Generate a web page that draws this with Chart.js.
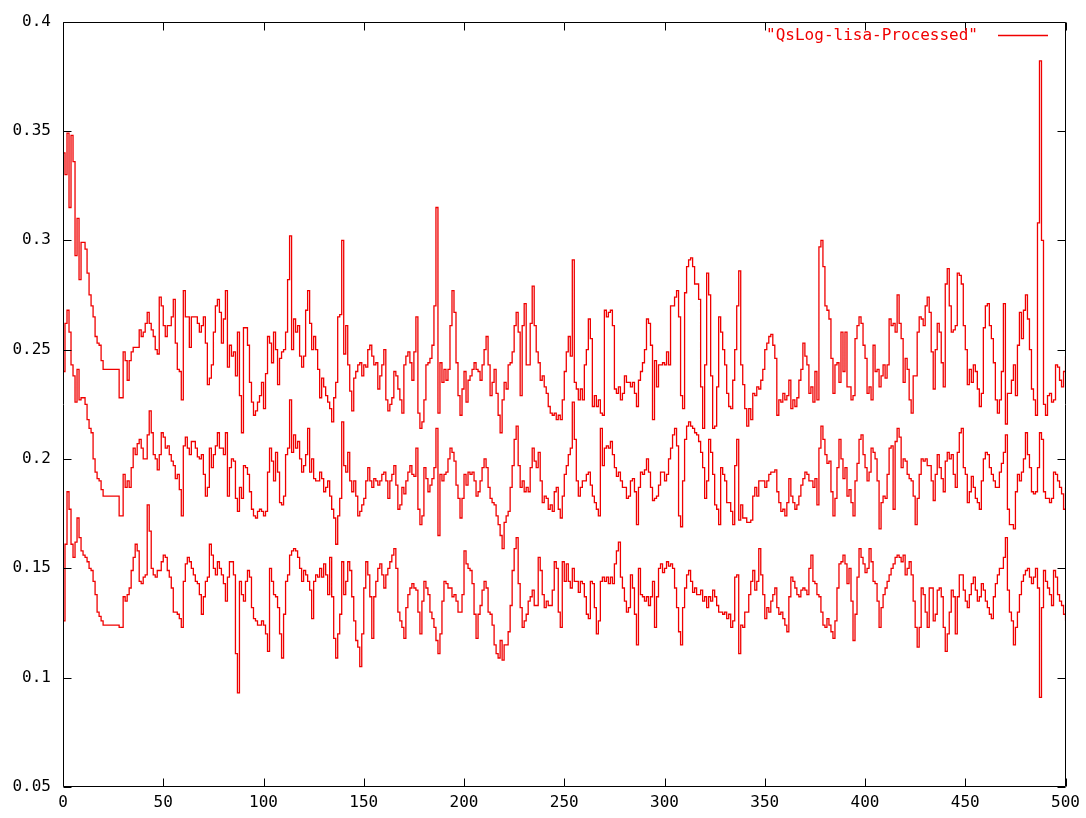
<!DOCTYPE html>
<html>
<head>
<meta charset="utf-8">
<script src="https://cdn.jsdelivr.net/npm/chart.js@4.4.1/dist/chart.umd.min.js"></script>
<style>
  html, body { margin: 0; padding: 0; background: #ffffff; }
  canvas { display: block; }
</style>
</head>
<body>
<canvas id="plot" width="1086" height="818"></canvas>
<script>
// Series name and axis tick values
const seriesName = 'QsLog-lisa-Processed';
const xTickValues = [0, 50, 100, 150, 200, 250, 300, 350, 400, 450, 500];
const yTickValues = [0.05, 0.1, 0.15, 0.2, 0.25, 0.3, 0.35, 0.4];

// Three passes of the log, one value per sample index 0..500
const upperPass = [
  .340,.330,.349,.315,.348,.336,.293,.310,.282,.299,
  .299,.296,.285,.275,.270,.265,.256,.253,.252,.245,
  .241,.241,.241,.241,.241,.241,.241,.241,.228,.228,
  .249,.245,.236,.245,.249,.251,.251,.251,.259,.256,
  .258,.262,.267,.262,.259,.256,.250,.248,.274,.270,
  .261,.256,.261,.261,.265,.273,.253,.241,.240,.227,
  .277,.265,.265,.251,.265,.265,.265,.262,.258,.261,
  .265,.253,.234,.237,.243,.258,.270,.273,.267,.253,
  .264,.277,.242,.252,.247,.249,.238,.258,.229,.212,
  .260,.260,.252,.235,.226,.220,.222,.226,.229,.235,
  .223,.239,.256,.253,.244,.258,.250,.234,.246,.249,
  .250,.258,.282,.302,.250,.264,.258,.261,.247,.242,
  .247,.268,.277,.262,.250,.256,.250,.241,.228,.237,
  .233,.229,.226,.223,.217,.228,.235,.265,.266,.300,
  .248,.261,.243,.231,.222,.237,.240,.243,.244,.238,
  .243,.242,.250,.252,.247,.243,.244,.232,.238,.243,
  .250,.227,.222,.225,.228,.240,.238,.232,.227,.221,
  .243,.247,.249,.244,.236,.249,.265,.221,.214,.217,
  .227,.243,.244,.246,.252,.270,.315,.221,.244,.235,
  .241,.236,.241,.261,.277,.267,.244,.229,.220,.232,
  .240,.226,.236,.238,.241,.244,.241,.240,.236,.243,
  .250,.256,.243,.229,.235,.241,.230,.220,.212,.227,
  .235,.232,.243,.244,.249,.261,.267,.258,.229,.261,
  .271,.243,.243,.262,.279,.261,.249,.244,.236,.238,
  .233,.230,.224,.221,.220,.221,.218,.220,.218,.227,
  .240,.249,.256,.247,.291,.235,.232,.227,.232,.227,
  .243,.250,.264,.255,.224,.229,.224,.227,.221,.220,
  .268,.265,.267,.268,.261,.232,.230,.233,.227,.230,
  .238,.235,.235,.233,.235,.230,.224,.236,.240,.244,
  .250,.264,.262,.252,.218,.245,.233,.243,.243,.244,
  .243,.249,.243,.270,.270,.274,.277,.265,.229,.223,
  .276,.288,.291,.292,.288,.280,.280,.273,.233,.214,
  .243,.285,.275,.238,.214,.215,.233,.265,.258,.250,
  .243,.230,.224,.223,.236,.250,.270,.286,.243,.234,
  .223,.215,.223,.218,.230,.229,.233,.232,.236,.241,
  .250,.253,.256,.257,.252,.246,.220,.227,.226,.230,
  .227,.229,.236,.223,.227,.224,.228,.236,.241,.253,
  .247,.243,.230,.233,.226,.240,.227,.297,.300,.288,
  .270,.268,.264,.246,.230,.243,.244,.235,.258,.240,
  .258,.233,.233,.227,.229,.255,.261,.265,.262,.252,
  .246,.230,.233,.227,.252,.240,.241,.233,.238,.243,
  .237,.243,.264,.261,.262,.258,.275,.262,.255,.235,
  .246,.241,.227,.221,.238,.238,.258,.265,.264,.261,
  .270,.274,.267,.249,.232,.250,.262,.258,.244,.233,
  .280,.287,.270,.258,.259,.261,.285,.284,.280,.261,
  .250,.234,.241,.235,.243,.240,.232,.224,.230,.260,
  .270,.271,.261,.255,.244,.227,.221,.227,.240,.271,
  .216,.230,.230,.236,.243,.229,.252,.267,.255,.268,
  .275,.264,.250,.232,.227,.220,.308,.382,.300,.225,
  .220,.229,.230,.226,.227,.243,.242,.236,.233,.240,
  .247
];

const middlePass = [
  .240,.262,.268,.258,.243,.238,.226,.241,.227,.228,
  .228,.225,.218,.214,.212,.200,.194,.191,.190,.186,
  .183,.183,.183,.183,.183,.183,.183,.183,.174,.174,
  .193,.187,.190,.187,.196,.205,.202,.207,.209,.205,
  .200,.200,.211,.222,.212,.202,.200,.195,.202,.212,
  .210,.205,.206,.202,.199,.197,.191,.193,.186,.174,
  .206,.210,.205,.202,.208,.208,.205,.201,.200,.202,
  .193,.183,.187,.205,.196,.202,.206,.212,.205,.205,
  .202,.212,.183,.196,.200,.199,.182,.176,.187,.182,
  .197,.196,.193,.185,.177,.174,.173,.176,.177,.176,
  .174,.176,.194,.205,.199,.190,.203,.194,.180,.179,
  .183,.202,.205,.227,.203,.211,.205,.208,.200,.194,
  .197,.202,.214,.194,.200,.191,.190,.190,.194,.191,
  .185,.187,.190,.183,.177,.173,.161,.174,.182,.217,
  .197,.194,.203,.190,.185,.190,.183,.174,.176,.179,
  .182,.190,.196,.190,.187,.191,.190,.188,.190,.193,
  .194,.190,.182,.190,.193,.197,.188,.177,.179,.187,
  .184,.190,.194,.197,.193,.192,.205,.177,.170,.174,
  .196,.191,.185,.188,.191,.196,.214,.165,.193,.190,
  .193,.194,.200,.205,.203,.199,.188,.182,.173,.182,
  .193,.188,.194,.193,.194,.190,.183,.185,.190,.196,
  .200,.196,.187,.182,.180,.179,.174,.170,.165,.159,
  .171,.174,.176,.187,.197,.209,.215,.197,.187,.190,
  .185,.187,.185,.196,.205,.199,.196,.203,.190,.180,
  .183,.182,.177,.179,.176,.185,.187,.177,.173,.183,
  .193,.197,.202,.205,.226,.209,.190,.183,.187,.190,
  .190,.193,.194,.188,.183,.180,.177,.174,.214,.197,
  .205,.206,.205,.208,.202,.196,.192,.194,.190,.187,
  .187,.182,.183,.190,.191,.185,.170,.187,.194,.193,
  .195,.200,.194,.187,.181,.182,.183,.188,.194,.194,
  .190,.193,.200,.205,.211,.214,.206,.174,.169,.190,
  .209,.215,.217,.215,.214,.212,.211,.208,.203,.196,
  .182,.190,.209,.203,.193,.179,.177,.170,.196,.193,
  .190,.180,.180,.176,.170,.197,.209,.172,.179,.173,
  .173,.171,.171,.172,.183,.187,.183,.190,.190,.190,
  .187,.190,.193,.194,.194,.195,.185,.180,.176,.177,
  .174,.180,.191,.183,.180,.177,.179,.183,.188,.191,
  .194,.193,.190,.190,.187,.191,.179,.205,.215,.209,
  .202,.198,.199,.185,.174,.182,.196,.209,.200,.191,
  .196,.183,.186,.180,.174,.190,.198,.209,.211,.202,
  .196,.190,.194,.205,.203,.200,.190,.168,.180,.183,
  .182,.193,.205,.206,.177,.208,.214,.210,.196,.200,
  .199,.193,.191,.190,.183,.170,.182,.193,.200,.199,
  .200,.197,.197,.190,.181,.193,.202,.196,.191,.185,
  .199,.203,.200,.202,.193,.187,.203,.212,.214,.196,
  .193,.180,.185,.192,.187,.182,.180,.177,.190,.200,
  .203,.202,.196,.193,.190,.187,.187,.194,.198,.203,
  .211,.177,.170,.170,.168,.185,.193,.190,.194,.200,
  .212,.202,.196,.185,.184,.185,.196,.212,.209,.185,
  .182,.182,.180,.182,.194,.193,.190,.187,.184,.177,
  .187
];

const lowerPass = [
  .126,.161,.185,.177,.161,.155,.162,.173,.164,.158,
  .156,.155,.153,.150,.149,.144,.138,.130,.128,.126,
  .124,.124,.124,.124,.124,.124,.124,.124,.123,.123,
  .137,.135,.138,.141,.149,.155,.161,.158,.144,.143,
  .146,.147,.179,.167,.150,.147,.146,.149,.149,.153,
  .156,.155,.149,.146,.141,.130,.130,.129,.127,.123,
  .144,.152,.155,.153,.150,.147,.144,.143,.138,.129,
  .137,.144,.146,.161,.156,.150,.147,.153,.150,.147,
  .143,.135,.146,.153,.153,.147,.111,.093,.144,.138,
  .135,.144,.149,.146,.132,.127,.126,.124,.124,.126,
  .124,.120,.112,.150,.144,.138,.137,.132,.120,.109,
  .129,.144,.147,.156,.158,.159,.158,.155,.150,.144,
  .149,.147,.144,.140,.127,.144,.147,.146,.150,.146,
  .152,.147,.138,.155,.137,.118,.109,.120,.129,.153,
  .138,.144,.153,.149,.137,.126,.117,.114,.105,.120,
  .141,.153,.147,.137,.118,.137,.144,.150,.152,.147,
  .141,.147,.150,.153,.156,.159,.150,.130,.126,.123,
  .118,.132,.138,.141,.143,.141,.140,.130,.120,.135,
  .144,.141,.138,.130,.127,.123,.117,.111,.120,.135,
  .144,.143,.141,.141,.137,.138,.135,.130,.130,.138,
  .158,.152,.150,.149,.143,.129,.118,.129,.133,.140,
  .144,.141,.130,.129,.124,.115,.111,.109,.117,.108,
  .115,.115,.121,.133,.149,.159,.164,.143,.132,.123,
  .126,.129,.135,.137,.140,.133,.133,.155,.149,.138,
  .132,.135,.133,.133,.140,.153,.150,.130,.123,.153,
  .144,.152,.144,.141,.150,.144,.144,.139,.144,.143,
  .137,.129,.127,.144,.143,.132,.120,.126,.144,.146,
  .144,.146,.143,.146,.143,.152,.158,.162,.146,.141,
  .135,.130,.132,.147,.141,.129,.115,.150,.138,.137,
  .135,.137,.133,.137,.144,.123,.137,.150,.152,.148,
  .150,.153,.151,.152,.150,.141,.132,.121,.115,.132,
  .141,.147,.149,.144,.139,.141,.138,.138,.140,.135,
  .137,.132,.137,.135,.140,.137,.133,.130,.130,.129,
  .130,.127,.129,.123,.126,.146,.147,.111,.124,.123,
  .130,.130,.138,.144,.149,.140,.144,.159,.147,.138,
  .127,.132,.130,.135,.138,.141,.132,.129,.130,.127,
  .124,.121,.137,.146,.144,.141,.138,.137,.140,.141,
  .140,.138,.150,.156,.144,.143,.138,.137,.130,.124,
  .123,.127,.124,.121,.118,.126,.141,.152,.153,.156,
  .152,.143,.150,.135,.117,.129,.146,.159,.155,.152,
  .148,.150,.159,.153,.144,.143,.135,.123,.132,.138,
  .141,.144,.147,.150,.152,.155,.156,.155,.153,.156,
  .147,.150,.153,.147,.135,.123,.114,.123,.141,.138,
  .130,.123,.141,.141,.126,.129,.140,.141,.137,.123,
  .112,.120,.130,.140,.137,.120,.137,.147,.147,.140,
  .135,.132,.138,.143,.146,.140,.135,.137,.143,.140,
  .135,.132,.129,.127,.137,.143,.147,.150,.150,.155,
  .164,.140,.130,.126,.115,.123,.130,.138,.144,.147,
  .149,.150,.146,.143,.146,.150,.141,.091,.132,.149,
  .144,.141,.138,.133,.149,.146,.138,.135,.133,.129,
  .126
];

// One data file: the passes are separate blocks, so the line breaks between them
const passes = [upperPass, middlePass, lowerPass];
const points = [];
passes.forEach((pass, p) => {
  pass.forEach((v, i) => points.push({ x: i, y: v }));
  if (p < passes.length - 1) points.push({ x: pass.length - 1, y: null });
});

const LINE_RED = '#f00000';
const FONT = { family: '"DejaVu Sans Mono", "Liberation Mono", monospace', size: 16 };

// Frame with inward tick marks on all four sides, plus the key in the top right corner
const framePlugin = {
  id: 'frame',
  beforeDraw(chart) {
    const ctx = chart.ctx;
    ctx.save();
    ctx.fillStyle = '#ffffff';
    ctx.fillRect(0, 0, chart.width, chart.height);
    ctx.restore();
  },
  afterDatasetsDraw(chart) {
    const { ctx, chartArea: a, scales } = chart;
    const L = Math.round(a.left) + 0.5, R = Math.round(a.right) - 0.5;
    const T = Math.round(a.top) + 0.5, B = Math.round(a.bottom) - 0.5;
    const tick = 8;
    ctx.save();
    ctx.strokeStyle = '#000000';
    ctx.lineWidth = 1;
    ctx.beginPath();
    ctx.rect(L, T, R - L, B - T);
    yTickValues.forEach(v => {
      const y = Math.round(scales.y.getPixelForValue(v)) + 0.5;
      ctx.moveTo(L, y); ctx.lineTo(L + tick, y);
      ctx.moveTo(R, y); ctx.lineTo(R - tick, y);
    });
    xTickValues.forEach(v => {
      const x = Math.round(scales.x.getPixelForValue(v)) + 0.5;
      ctx.moveTo(x, B); ctx.lineTo(x, B - tick);
      ctx.moveTo(x, T); ctx.lineTo(x, T + tick);
    });
    ctx.stroke();

    // key
    const ds = chart.data.datasets[0];
    ctx.font = FONT.size + 'px ' + FONT.family;
    ctx.fillStyle = ds.borderColor;
    ctx.textAlign = 'right';
    ctx.textBaseline = 'middle';
    const keyY = 36;
    ctx.fillText('"' + ds.label + '"', 978, keyY);
    ctx.strokeStyle = ds.borderColor;
    ctx.lineWidth = 1.3;
    ctx.beginPath();
    ctx.moveTo(998, keyY - 0.5);
    ctx.lineTo(1048, keyY - 0.5);
    ctx.stroke();
    ctx.restore();
  }
};

new Chart(document.getElementById('plot'), {
  type: 'line',
  data: {
    datasets: [{
      label: seriesName,
      data: points,
      borderColor: LINE_RED,
      backgroundColor: LINE_RED,
      borderWidth: 1.3,
      pointRadius: 0,
      stepped: true,
      spanGaps: false,
      fill: false
    }]
  },
  options: {
    responsive: false,
    animation: false,
    devicePixelRatio: 1,
    layout: { padding: { top: 18, right: 20, left: 0, bottom: 0 } },
    plugins: { legend: { display: false }, tooltip: { enabled: false } },
    scales: {
      x: {
        type: 'linear',
        min: 0,
        max: 500,
        afterBuildTicks: s => { s.ticks = xTickValues.map(v => ({ value: v })); },
        afterFit: s => { s.height = 31; },
        grid: { display: false, drawTicks: false },
        border: { display: false },
        ticks: {
          color: '#000000',
          font: FONT,
          padding: 6,
          maxRotation: 0,
          autoSkip: false,
          callback: v => String(v)
        }
      },
      y: {
        type: 'linear',
        min: 0.05,
        max: 0.4,
        afterBuildTicks: s => { s.ticks = yTickValues.map(v => ({ value: v })); },
        afterFit: s => { s.width = 63; },
        grid: { display: false, drawTicks: false },
        border: { display: false },
        ticks: {
          color: '#000000',
          font: FONT,
          padding: 12,
          autoSkip: false,
          callback: v => String(Math.round(v * 100) / 100)
        }
      }
    }
  },
  plugins: [framePlugin]
});
</script>
</body>
</html>
